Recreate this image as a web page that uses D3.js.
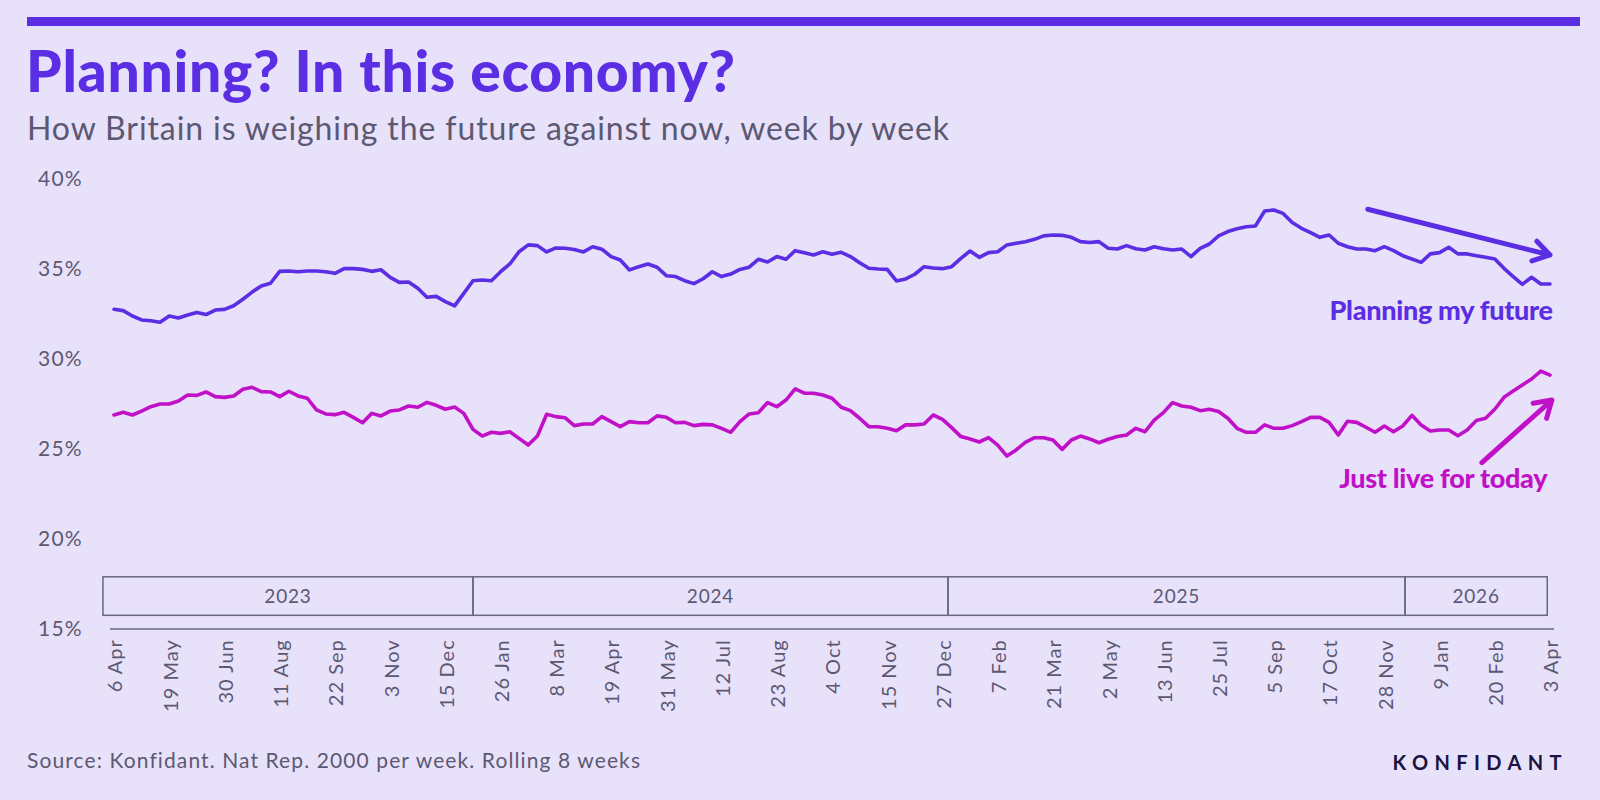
<!DOCTYPE html>
<html lang="en">
<head>
<meta charset="UTF-8">
<title>Planning? In this economy?</title>
<script src="https://cdn.jsdelivr.net/npm/d3@7"></script>
<style>
  body { margin: 0; background: #e7e1fa; }
  svg { display: block; }
</style>
</head>
<body>
<script>
// weekly, 6 Apr 2023 -> 3 Apr 2026, rolling 8 weeks
const weekLabels = ['6 Apr', '19 May', '30 Jun', '11 Aug', '22 Sep', '3 Nov', '15 Dec',
  '26 Jan', '8 Mar', '19 Apr', '31 May', '12 Jul', '23 Aug', '4 Oct', '15 Nov', '27 Dec',
  '7 Feb', '21 Mar', '2 May', '13 Jun', '25 Jul', '5 Sep', '17 Oct', '28 Nov',
  '9 Jan', '20 Feb', '3 Apr']
const labelStep = 6

const planning = [
  32.72, 32.65, 32.35, 32.13, 32.09, 32.00, 32.35, 32.24, 32.41, 32.55, 32.43, 32.68, 32.72, 32.92, 33.28, 33.68,
  34.02, 34.17, 34.83, 34.85, 34.81, 34.85, 34.85, 34.81, 34.72, 34.98, 34.98, 34.94, 34.83, 34.92, 34.50, 34.22,
  34.24, 33.89, 33.39, 33.44, 33.15, 32.91, 33.61, 34.31, 34.35, 34.31, 34.81, 35.24, 35.92, 36.30, 36.26, 35.91,
  36.13, 36.11, 36.04, 35.91, 36.20, 36.06, 35.65, 35.46, 34.91, 35.09, 35.24, 35.06, 34.59, 34.54, 34.31, 34.15,
  34.42, 34.81, 34.54, 34.68, 34.94, 35.06, 35.50, 35.35, 35.65, 35.50, 35.98, 35.87, 35.74, 35.92, 35.78, 35.89,
  35.65, 35.31, 35.00, 34.96, 34.94, 34.30, 34.41, 34.67, 35.09, 35.02, 34.98, 35.09, 35.55, 35.96, 35.61, 35.87,
  35.92, 36.30, 36.39, 36.48, 36.61, 36.80, 36.85, 36.83, 36.72, 36.48, 36.43, 36.48, 36.11, 36.07, 36.26, 36.09,
  36.02, 36.20, 36.09, 36.02, 36.07, 35.65, 36.11, 36.35, 36.80, 37.04, 37.20, 37.31, 37.35, 38.18, 38.24, 38.05,
  37.54, 37.22, 36.98, 36.72, 36.85, 36.39, 36.20, 36.07, 36.07, 35.98, 36.20, 35.98, 35.70, 35.52, 35.33, 35.80,
  35.87, 36.17, 35.80, 35.80, 35.70, 35.61, 35.52, 35.00, 34.54, 34.11, 34.50, 34.13, 34.13
]

const live = [
  26.85, 27.00, 26.85, 27.07, 27.31, 27.46, 27.46, 27.63, 27.96, 27.94, 28.13, 27.87, 27.83, 27.91, 28.28, 28.39,
  28.15, 28.13, 27.87, 28.17, 27.91, 27.78, 27.13, 26.91, 26.87, 27.00, 26.72, 26.42, 26.94, 26.80, 27.07, 27.13,
  27.35, 27.28, 27.55, 27.39, 27.17, 27.29, 26.94, 26.05, 25.68, 25.89, 25.83, 25.92, 25.55, 25.18, 25.68, 26.89,
  26.76, 26.70, 26.26, 26.35, 26.35, 26.76, 26.48, 26.20, 26.48, 26.42, 26.42, 26.80, 26.72, 26.42, 26.44, 26.26,
  26.33, 26.30, 26.11, 25.89, 26.48, 26.91, 26.98, 27.54, 27.31, 27.68, 28.30, 28.06, 28.06, 27.96, 27.78, 27.28,
  27.09, 26.67, 26.20, 26.20, 26.11, 25.98, 26.30, 26.30, 26.35, 26.85, 26.61, 26.15, 25.65, 25.52, 25.35, 25.59,
  25.18, 24.57, 24.91, 25.33, 25.59, 25.59, 25.46, 24.94, 25.46, 25.68, 25.52, 25.31, 25.50, 25.65, 25.74, 26.11,
  25.92, 26.57, 26.98, 27.54, 27.35, 27.28, 27.09, 27.17, 27.04, 26.67, 26.11, 25.89, 25.89, 26.30, 26.11, 26.11,
  26.26, 26.48, 26.72, 26.72, 26.44, 25.74, 26.50, 26.44, 26.17, 25.89, 26.24, 25.92, 26.24, 26.83, 26.30, 25.96,
  26.02, 26.02, 25.70, 26.02, 26.54, 26.67, 27.17, 27.83, 28.18, 28.52, 28.85, 29.29, 29.07
]

const yTicks = [15, 20, 25, 30, 35, 40]

// year bands, edges in week index
const years = ['2023', '2024', '2025', '2026']
const yearEdges = [-1.2, 39, 90.6, 140.25, 155.7]

const blue = '#5b2ee4'
const magenta = '#c011c9'
const grey = '#5d5872'
const lineGrey = '#6b6682'

const width = 1600
const height = 800

const svg = d3.select('body')
  .append('svg')
  .attr('width', width)
  .attr('height', height)
  .style('background', '#e7e1fa')

const x = d3.scaleLinear()
  .domain([0, planning.length - 1])
  .range([114, 1550])

const y = d3.scaleLinear()
  .domain([15, 40])
  .range([628.3, 178.3])

// header
svg.append('rect')
  .attr('x', 27)
  .attr('y', 17)
  .attr('width', 1553)
  .attr('height', 9)
  .attr('fill', blue)

svg.append('text')
  .attr('x', 26)
  .attr('y', 92)
  .attr('font-family', 'Lato')
  .attr('font-weight', 900)
  .attr('font-size', 57)
  .attr('letter-spacing', 0.7)
  .attr('fill', blue)
  .text('Planning? In this economy?')

svg.append('text')
  .attr('x', 27)
  .attr('y', 140)
  .attr('font-family', 'Lato')
  .attr('font-weight', 400)
  .attr('font-size', 32)
  .attr('letter-spacing', 0.9)
  .attr('fill', grey)
  .text('How Britain is weighing the future against now, week by week')

// y axis labels
svg.append('g')
  .selectAll('text')
  .data(yTicks)
  .enter()
  .append('text')
  .attr('x', 83)
  .attr('y', (d) => y(d))
  .attr('dy', '0.36em')
  .attr('text-anchor', 'end')
  .attr('font-family', 'Lato')
  .attr('font-size', 21)
  .attr('letter-spacing', 1.3)
  .attr('fill', grey)
  .text((d) => d + '%')

// year bands
const bandTop = y(15) - 51.5
const bandH = 38.5
const bands = svg.append('g')

bands.selectAll('rect')
  .data(years)
  .enter()
  .append('rect')
  .attr('x', (d, i) => x(yearEdges[i]))
  .attr('y', bandTop)
  .attr('width', (d, i) => x(yearEdges[i + 1]) - x(yearEdges[i]))
  .attr('height', bandH)
  .attr('fill', 'none')
  .attr('stroke', lineGrey)
  .attr('stroke-width', 1.5)

bands.selectAll('text')
  .data(years)
  .enter()
  .append('text')
  .attr('x', (d, i) => (x(yearEdges[i]) + x(yearEdges[i + 1])) / 2)
  .attr('y', bandTop + bandH / 2)
  .attr('dy', '0.36em')
  .attr('text-anchor', 'middle')
  .attr('font-family', 'Lato')
  .attr('font-size', 19)
  .attr('letter-spacing', 0.8)
  .attr('fill', grey)
  .text((d) => d)

// x axis
svg.append('line')
  .attr('x1', x.range()[0] - 4)
  .attr('x2', x.range()[1] + 4)
  .attr('y1', y(15) + 0.7)
  .attr('y2', y(15) + 0.7)
  .attr('stroke', lineGrey)
  .attr('stroke-width', 1.5)

svg.append('g')
  .selectAll('text')
  .data(weekLabels)
  .enter()
  .append('text')
  .attr('transform', (d, i) => `translate(${x(i * labelStep)},${y(15) + 11}) rotate(-90)`)
  .attr('dy', '0.42em')
  .attr('text-anchor', 'end')
  .attr('font-family', 'Lato')
  .attr('font-size', 20)
  .attr('letter-spacing', 1)
  .attr('fill', grey)
  .text((d) => d)

// lines
const line = d3.line()
  .x((d, i) => x(i))
  .y((d) => y(d))

svg.append('path')
  .datum(planning)
  .attr('d', line)
  .attr('fill', 'none')
  .attr('stroke', blue)
  .attr('stroke-width', 3.6)
  .attr('stroke-linejoin', 'round')
  .attr('stroke-linecap', 'round')

svg.append('path')
  .datum(live)
  .attr('d', line)
  .attr('fill', 'none')
  .attr('stroke', magenta)
  .attr('stroke-width', 3.6)
  .attr('stroke-linejoin', 'round')
  .attr('stroke-linecap', 'round')

// annotations (week index, value)
function arrow(from, to, colour) {
  const x1 = x(from[0]), y1 = y(from[1])
  const x2 = x(to[0]), y2 = y(to[1])
  const a = Math.atan2(y2 - y1, x2 - x1)
  const len = 19
  const spread = Math.PI / 5.6
  const arm = (s) => [x2 - len * Math.cos(a + s), y2 - len * Math.sin(a + s)]
  const p1 = arm(spread)
  const p2 = arm(-spread)
  svg.append('path')
    .attr('d', `M${x1},${y1}L${x2},${y2}M${p1[0]},${p1[1]}L${x2},${y2}L${p2[0]},${p2[1]}`)
    .attr('fill', 'none')
    .attr('stroke', colour)
    .attr('stroke-width', 5)
    .attr('stroke-linecap', 'round')
    .attr('stroke-linejoin', 'round')
}

arrow([136.2, 38.28], [156.0, 35.74], blue)
arrow([148.6, 24.2], [156.2, 27.68], magenta)

svg.append('text')
  .attr('x', x(156.3))
  .attr('y', y(32.13))
  .attr('text-anchor', 'end')
  .attr('font-family', 'Lato')
  .attr('font-weight', 900)
  .attr('font-size', 27)
  .attr('letter-spacing', -0.3)
  .attr('fill', blue)
  .text('Planning my future')

svg.append('text')
  .attr('x', x(155.7))
  .attr('y', y(22.79))
  .attr('text-anchor', 'end')
  .attr('font-family', 'Lato')
  .attr('font-weight', 900)
  .attr('font-size', 27)
  .attr('letter-spacing', -0.3)
  .attr('fill', magenta)
  .text('Just live for today')

// footer
svg.append('text')
  .attr('x', 27)
  .attr('y', 768)
  .attr('font-family', 'Lato')
  .attr('font-size', 21)
  .attr('letter-spacing', 1.1)
  .attr('fill', grey)
  .text('Source: Konfidant. Nat Rep. 2000 per week. Rolling 8 weeks')

svg.append('text')
  .attr('x', 1568)
  .attr('y', 770)
  .attr('text-anchor', 'end')
  .attr('font-family', 'Lato')
  .attr('font-weight', 700)
  .attr('font-size', 20)
  .attr('letter-spacing', 6.4)
  .attr('fill', '#1b1240')
  .text('KONFIDANT')
</script>
</body>
</html>
